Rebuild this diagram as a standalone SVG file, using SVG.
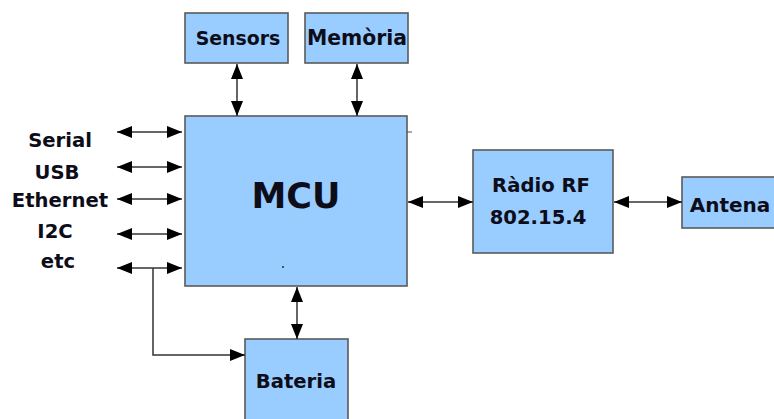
<svg xmlns="http://www.w3.org/2000/svg" width="774" height="419" viewBox="0 0 774 419">
<style>
.box{fill:#99ccff;stroke:#5a5a5a;stroke-width:1.6}
.lbl{font-family:"DejaVu Sans",Verdana,sans-serif;font-weight:bold;font-size:19.6px;fill:#0d0d1a;text-anchor:middle}
.con{stroke:#333;stroke-width:1.5;fill:none}
</style>
<defs>
<marker id="ah" viewBox="0 0 15 12" refX="15" refY="6" markerWidth="15" markerHeight="12" markerUnits="userSpaceOnUse" orient="auto-start-reverse">
<path d="M0,0 L15,6 L0,12 z" fill="#000"/>
</marker>
</defs>
<rect width="774" height="419" fill="#fff"/>
<g id="mcu"><rect class="box" x="185" y="116" width="222" height="170"/><text class="lbl" x="296" y="208" style="font-size:35px">MCU</text><rect x="282" y="266" width="2" height="2" fill="#555"/><line x1="407" y1="132" x2="412" y2="132" stroke="#555" stroke-width="1"/></g>
<g id="sensors"><rect class="box" x="185" y="13" width="103" height="50"/><text class="lbl" x="238" y="45" style="font-size:18.9px">Sensors</text></g>
<g id="memoria"><rect class="box" x="305" y="13" width="103" height="50"/><text class="lbl" x="357" y="45" style="font-size:20.4px">Memòria</text></g>
<g id="radio"><rect class="box" x="473" y="150" width="140" height="103"/><text class="lbl" x="541" y="192">Ràdio RF</text><text class="lbl" x="538" y="224">802.15.4</text></g>
<g id="antena"><rect class="box" x="682" y="177" width="100" height="51"/><text class="lbl" x="730" y="212" style="font-size:20px">Antena</text></g>
<g id="bateria"><rect class="box" x="245" y="339" width="103" height="90"/><text class="lbl" x="296" y="388">Bateria</text></g>
<g id="labels">
<text class="lbl" x="60" y="147">Serial</text>
<text class="lbl" x="57" y="179">USB</text>
<text class="lbl" x="60" y="207">Ethernet</text>
<text class="lbl" x="55" y="238">I2C</text>
<text class="lbl" x="58" y="268">etc</text>
</g>
<g id="connectors">
<line class="con" x1="117" y1="132" x2="182" y2="132" marker-start="url(#ah)" marker-end="url(#ah)"/>
<line class="con" x1="117" y1="167" x2="182" y2="167" marker-start="url(#ah)" marker-end="url(#ah)"/>
<line class="con" x1="117" y1="199" x2="182" y2="199" marker-start="url(#ah)" marker-end="url(#ah)"/>
<line class="con" x1="117" y1="234" x2="182" y2="234" marker-start="url(#ah)" marker-end="url(#ah)"/>
<line class="con" x1="117" y1="268" x2="182" y2="268" marker-start="url(#ah)" marker-end="url(#ah)"/>
<polyline class="con" points="153,268 153,355 245,355" marker-end="url(#ah)"/>
<line class="con" x1="237" y1="64" x2="237" y2="116" marker-start="url(#ah)" marker-end="url(#ah)"/>
<line class="con" x1="357" y1="64" x2="357" y2="116" marker-start="url(#ah)" marker-end="url(#ah)"/>
<line class="con" x1="297" y1="287" x2="297" y2="339" marker-start="url(#ah)" marker-end="url(#ah)"/>
<line class="con" x1="408" y1="202" x2="473" y2="202" marker-start="url(#ah)" marker-end="url(#ah)"/>
<line class="con" x1="614" y1="202" x2="682" y2="202" marker-start="url(#ah)" marker-end="url(#ah)"/>
</g>
</svg>
